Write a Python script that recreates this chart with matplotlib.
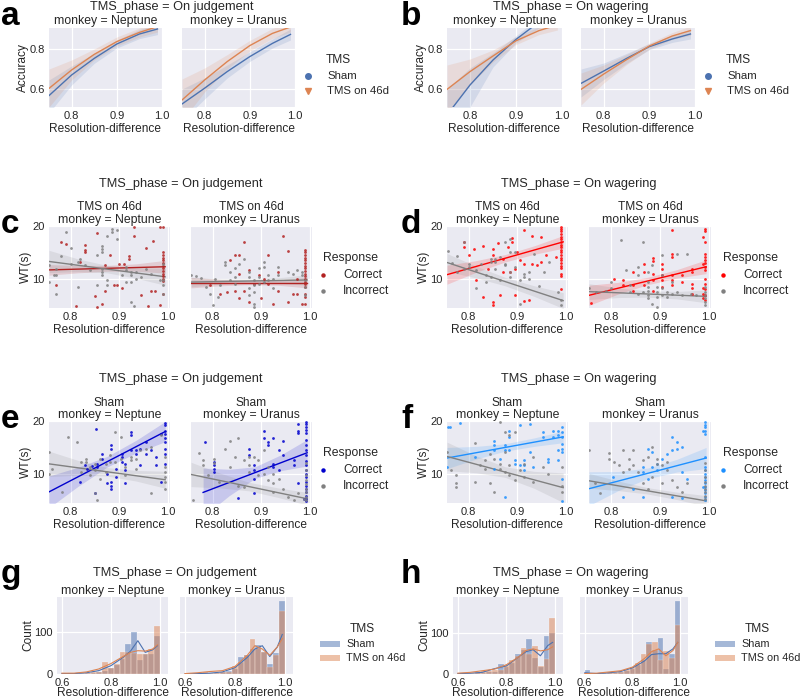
import numpy as np
import matplotlib.pyplot as plt
from matplotlib.lines import Line2D
from matplotlib.patches import Rectangle
from matplotlib.ticker import MultipleLocator

plt.rcParams['font.family'] = ['Liberation Sans', 'DejaVu Sans']
for k in ('text.color', 'axes.labelcolor', 'xtick.color', 'ytick.color'):
    plt.rcParams[k] = '#262626'

BLUE = '#4C72B0'
ORANGE = '#DD8452'
GRAY = '#808080'

# ---------------- accuracy (panels a, b) ----------------
x_acc = [0.75, 0.80, 0.85, 0.90, 0.95, 0.99]
a_nep_sham = [0.567, 0.670, 0.753, 0.825, 0.875, 0.900]
a_nep_sham_lo = [0.48, 0.620, 0.728, 0.805, 0.852, 0.872]
a_nep_sham_hi = [0.645, 0.715, 0.778, 0.845, 0.897, 0.925]
a_nep_tms = [0.603, 0.695, 0.773, 0.837, 0.883, 0.912]
a_nep_tms_lo = [0.51, 0.645, 0.745, 0.815, 0.860, 0.885]
a_nep_tms_hi = [0.70, 0.745, 0.800, 0.860, 0.905, 0.935]
a_ura_sham = [0.525, 0.604, 0.687, 0.762, 0.828, 0.873]
a_ura_sham_lo = [0.44, 0.550, 0.655, 0.738, 0.805, 0.845]
a_ura_sham_hi = [0.60, 0.655, 0.720, 0.786, 0.850, 0.900]
a_ura_tms = [0.545, 0.645, 0.737, 0.817, 0.878, 0.910]
a_ura_tms_lo = [0.44, 0.585, 0.700, 0.790, 0.853, 0.885]
a_ura_tms_hi = [0.65, 0.705, 0.772, 0.843, 0.903, 0.935]
b_nep_sham = [0.47, 0.620, 0.745, 0.848, 0.935, 0.970]
b_nep_sham_lo = [0.33, 0.510, 0.710, 0.830, 0.905, 0.935]
b_nep_sham_hi = [0.60, 0.705, 0.780, 0.866, 0.960, 0.995]
b_nep_tms = [0.598, 0.687, 0.765, 0.841, 0.892, 0.920]
b_nep_tms_lo = [0.48, 0.620, 0.735, 0.822, 0.872, 0.895]
b_nep_tms_hi = [0.72, 0.750, 0.795, 0.860, 0.912, 0.945]
b_ura_sham = [0.628, 0.690, 0.753, 0.812, 0.850, 0.875]
b_ura_sham_lo = [0.56, 0.648, 0.728, 0.797, 0.833, 0.850]
b_ura_sham_hi = [0.70, 0.730, 0.778, 0.827, 0.868, 0.900]
b_ura_tms = [0.598, 0.675, 0.747, 0.815, 0.865, 0.892]
b_ura_tms_lo = [0.52, 0.630, 0.722, 0.800, 0.848, 0.868]
b_ura_tms_hi = [0.68, 0.720, 0.772, 0.830, 0.882, 0.915]

# ---------------- waiting time scatter (panels c-f) ----------------
c_nep_cor = [(0.77, 8.9), (0.78, 17.0), (0.79, 16.6), (0.81, 4.8), (0.82, 13.2), (0.83, 16.5), (0.83, 15.5),
             (0.83, 15.0), (0.85, 6.8), (0.855, 18.6), (0.855, 4.7), (0.87, 12.7), (0.87, 7.8), (0.865, 5.3),
             (0.88, 14.6), (0.89, 8.9), (0.895, 8.8), (0.90, 12.8), (0.905, 8.2), (0.91, 12.8), (0.92, 14.3),
             (0.92, 13.7), (0.93, 18.2), (0.93, 19.8), (0.945, 7.0), (0.955, 15.8), (0.96, 4.8), (0.965, 7.8),
             (0.97, 17.2), (0.975, 7.8), (0.985, 5.0), (0.985, 19.9), (0.99, 15.0), (0.99, 14.5), (0.99, 14.0),
             (0.99, 13.5), (0.99, 13.0), (0.99, 12.5), (0.99, 12.0), (0.99, 11.5), (0.99, 11.0), (0.99, 10.5),
             (0.99, 10.0), (0.99, 9.6), (0.99, 7.2), (0.99, 19.8)]
c_nep_inc = [(0.755, 12.6), (0.755, 9.4), (0.765, 10.7), (0.77, 11.9), (0.77, 10.7), (0.77, 7.2), (0.78, 14.3),
             (0.79, 18.9), (0.80, 15.8), (0.80, 12.9), (0.815, 8.5), (0.815, 13.2), (0.82, 13.8), (0.83, 12.6),
             (0.84, 11.6), (0.855, 14.5), (0.855, 8.8), (0.865, 16.2), (0.865, 15.7), (0.865, 15.1), (0.865, 11.9),
             (0.865, 11.3), (0.865, 10.7), (0.875, 18.2), (0.875, 9.7), (0.875, 8.8), (0.885, 19.5), (0.885, 18.9),
             (0.895, 17.6), (0.895, 19.2), (0.905, 10.7), (0.915, 12.3), (0.915, 11.6), (0.915, 9.4), (0.925, 11.3),
             (0.925, 10.7), (0.925, 9.4), (0.925, 5.6), (0.93, 4.9), (0.935, 11.3), (0.935, 10.0), (0.945, 10.4),
             (0.955, 11.9), (0.965, 11.0), (0.985, 9.7), (0.99, 12.9), (0.99, 9.7), (0.99, 8.8), (0.99, 7.2)]
c_ura_cor = [(0.795, 8.8), (0.815, 7.2), (0.83, 7.5), (0.835, 13.5), (0.845, 14.5), (0.845, 7.8), (0.855, 14.5),
             (0.855, 11.0), (0.855, 6.3), (0.865, 16.9), (0.865, 7.8), (0.875, 11.6), (0.875, 5.6), (0.885, 9.1),
             (0.895, 10.7), (0.90, 6.3), (0.905, 10.0), (0.915, 14.5), (0.915, 9.1), (0.925, 5.3), (0.935, 11.3),
             (0.935, 7.8), (0.945, 18.1), (0.955, 15.3), (0.955, 5.6), (0.965, 7.2), (0.975, 7.2), (0.975, 10.0),
             (0.985, 5.3), (0.99, 15.5), (0.99, 15.0), (0.99, 14.5), (0.99, 14.0), (0.99, 13.5), (0.99, 13.0),
             (0.99, 12.5), (0.99, 12.0), (0.99, 11.5), (0.99, 11.0), (0.99, 10.5), (0.99, 10.0), (0.99, 9.5),
             (0.99, 9.0), (0.99, 8.5), (0.99, 7.2), (0.99, 6.5), (0.99, 5.3)]
c_ura_inc = [(0.755, 10.7), (0.765, 10.5), (0.775, 10.2), (0.785, 8.5), (0.795, 7.2), (0.805, 10.0), (0.815, 8.8),
             (0.825, 13.2), (0.825, 12.6), (0.835, 11.3), (0.835, 9.7), (0.845, 12.0), (0.845, 10.4), (0.845, 9.1),
             (0.855, 12.9), (0.865, 13.8), (0.875, 11.3), (0.875, 10.4), (0.875, 8.2), (0.875, 6.9), (0.885, 9.7),
             (0.885, 8.8), (0.885, 7.5), (0.885, 5.3), (0.885, 4.7), (0.895, 12.0), (0.895, 10.4), (0.895, 9.1),
             (0.905, 13.2), (0.905, 12.3), (0.905, 9.4), (0.915, 10.7), (0.915, 9.7), (0.925, 10.0), (0.925, 8.2),
             (0.935, 12.3), (0.935, 10.7), (0.955, 11.3), (0.965, 11.0), (0.975, 11.6), (0.985, 11.3),
             (0.985, 10.7), (0.99, 9.7), (0.99, 8.5), (0.99, 6.9), (0.80, 5.0), (0.81, 6.5)]
d_nep_cor = [(0.79, 17.0), (0.79, 16.0), (0.80, 14.5), (0.81, 15.7), (0.815, 9.7), (0.83, 16.2), (0.83, 6.6),
             (0.84, 11.9), (0.85, 15.7), (0.85, 14.5), (0.85, 5.6), (0.85, 5.0), (0.86, 16.7), (0.865, 6.9),
             (0.87, 13.8), (0.87, 11.3), (0.88, 16.0), (0.885, 11.3), (0.89, 17.8), (0.89, 17.0), (0.895, 11.9),
             (0.895, 6.9), (0.90, 15.1), (0.905, 13.5), (0.915, 19.2), (0.915, 12.9), (0.915, 5.9), (0.925, 6.1),
             (0.93, 18.2), (0.93, 12.9), (0.94, 12.6), (0.95, 17.9), (0.95, 13.2), (0.96, 14.5), (0.98, 14.1),
             (0.99, 19.8), (0.99, 19.4), (0.99, 19.0), (0.99, 18.5), (0.99, 18.0), (0.99, 17.5), (0.99, 17.0),
             (0.99, 16.5), (0.99, 16.0), (0.99, 15.5), (0.99, 15.0), (0.99, 14.5), (0.99, 14.0), (0.99, 13.5),
             (0.99, 13.0), (0.99, 12.5), (0.99, 12.0), (0.99, 11.0), (0.99, 10.5), (0.99, 8.0)]
d_nep_inc = [(0.757, 15.3), (0.765, 13.0), (0.775, 14.3), (0.775, 11.3), (0.79, 17.0), (0.79, 11.8), (0.80, 12.9),
             (0.80, 12.3), (0.815, 11.6), (0.815, 8.2), (0.825, 12.9), (0.835, 10.7), (0.835, 9.4), (0.845, 13.8),
             (0.845, 13.2), (0.845, 10.4), (0.855, 13.8), (0.855, 13.2), (0.855, 11.9), (0.865, 14.1), (0.865, 9.7),
             (0.875, 17.0), (0.875, 12.9), (0.875, 12.6), (0.885, 17.6), (0.885, 15.1), (0.885, 11.3),
             (0.885, 10.4), (0.895, 15.1), (0.895, 12.3), (0.905, 9.7), (0.905, 5.3), (0.915, 11.0), (0.915, 10.4),
             (0.925, 11.3), (0.925, 10.0), (0.935, 14.8), (0.945, 8.7), (0.955, 11.3), (0.965, 13.2), (0.985, 7.5),
             (0.99, 6.1), (0.99, 5.1)]
d_ura_cor = [(0.76, 5.5), (0.806, 10.0), (0.825, 9.7), (0.825, 8.8), (0.846, 11.3), (0.846, 8.8), (0.846, 7.8),
             (0.867, 12.9), (0.867, 11.3), (0.867, 8.8), (0.886, 13.9), (0.886, 13.3), (0.886, 11.0), (0.886, 9.7),
             (0.886, 7.8), (0.905, 12.9), (0.905, 11.9), (0.905, 10.7), (0.905, 9.7), (0.905, 8.5), (0.925, 19.2),
             (0.925, 14.8), (0.925, 14.1), (0.925, 10.7), (0.925, 9.7), (0.925, 8.8), (0.946, 10.7), (0.946, 9.4),
             (0.967, 11.9), (0.967, 11.3), (0.967, 9.1), (0.967, 8.2), (0.967, 7.2), (0.988, 17.9), (0.988, 12.9),
             (0.988, 8.2), (0.988, 7.2), (0.988, 6.3), (0.993, 19.5), (0.993, 19.0), (0.993, 17.0), (0.993, 14.8),
             (0.993, 14.2), (0.993, 13.6), (0.993, 13.0), (0.993, 12.3), (0.993, 11.6), (0.993, 10.0), (0.993, 9.0),
             (0.993, 8.0), (0.993, 7.0), (0.993, 6.0)]
d_ura_inc = [(0.755, 8.2), (0.77, 7.5), (0.79, 7.8), (0.80, 9.4), (0.80, 8.2), (0.82, 17.4), (0.83, 11.6),
             (0.84, 8.8), (0.84, 7.5), (0.855, 12.3), (0.855, 10.7), (0.855, 7.2), (0.865, 17.0), (0.865, 7.5),
             (0.875, 11.3), (0.875, 9.4), (0.875, 8.5), (0.875, 7.8), (0.875, 6.9), (0.875, 6.3), (0.885, 12.6),
             (0.885, 5.3), (0.895, 8.5), (0.895, 7.5), (0.895, 6.6), (0.895, 4.7), (0.905, 14.5), (0.905, 10.7),
             (0.905, 8.2), (0.905, 6.9), (0.915, 7.5), (0.915, 6.6), (0.925, 9.4), (0.925, 7.2), (0.935, 14.8),
             (0.935, 7.5), (0.945, 6.9), (0.955, 14.8), (0.965, 7.2), (0.975, 6.9), (0.993, 8.5), (0.993, 7.5),
             (0.993, 6.9), (0.993, 6.3), (0.993, 5.6), (0.993, 5.0)]
e_nep_cor = [(0.82, 8.5), (0.829, 11.6), (0.833, 11.0), (0.844, 11.4), (0.85, 6.4), (0.852, 18.4), (0.854, 11.9),
             (0.854, 11.3), (0.865, 13.7), (0.865, 12.9), (0.874, 10.0), (0.874, 8.2), (0.883, 15.4), (0.883, 14.8),
             (0.883, 8.5), (0.883, 7.8), (0.883, 7.2), (0.894, 11.0), (0.894, 9.4), (0.905, 13.7), (0.905, 13.2),
             (0.905, 12.3), (0.913, 11.9), (0.913, 10.7), (0.913, 8.2), (0.924, 17.9), (0.924, 17.3), (0.924, 14.5),
             (0.934, 14.5), (0.934, 13.8), (0.944, 14.8), (0.944, 11.6), (0.955, 16.0), (0.955, 13.8), (0.965, 14.5),
             (0.976, 13.2), (0.976, 11.6), (0.986, 8.5), (0.986, 17.6), (0.995, 19.6), (0.995, 19.2), (0.995, 18.2),
             (0.995, 17.6), (0.995, 16.7), (0.995, 16.0), (0.995, 14.8), (0.995, 13.8), (0.995, 11.9)]
e_nep_inc = [(0.755, 14.1), (0.755, 10.0), (0.762, 11.0), (0.781, 6.6), (0.795, 16.9), (0.813, 16.0), (0.822, 12.3),
             (0.822, 10.4), (0.831, 12.9), (0.831, 12.3), (0.84, 11.3), (0.84, 9.7), (0.851, 11.9), (0.851, 10.7),
             (0.851, 6.3), (0.854, 5.0), (0.861, 12.9), (0.861, 9.1), (0.872, 11.9), (0.872, 10.4), (0.882, 13.5),
             (0.882, 12.3), (0.892, 17.9), (0.892, 12.3), (0.903, 17.0), (0.903, 12.9), (0.913, 11.3), (0.913, 9.7),
             (0.924, 13.2), (0.924, 12.6), (0.934, 12.9), (0.934, 11.0), (0.944, 14.5), (0.955, 14.8), (0.965, 15.1),
             (0.965, 6.3), (0.986, 17.3), (0.995, 13.2), (0.995, 11.3), (0.995, 10.4), (0.995, 9.4), (0.995, 8.5),
             (0.995, 7.2)]
e_ura_cor = [(0.783, 16.0), (0.803, 12.3), (0.803, 11.6), (0.803, 11.0), (0.803, 10.4), (0.852, 5.5), (0.875, 14.8),
             (0.875, 13.5), (0.885, 11.6), (0.885, 10.7), (0.885, 9.1), (0.885, 6.3), (0.905, 18.2), (0.905, 16.7),
             (0.915, 16.0), (0.915, 15.4), (0.925, 16.7), (0.925, 11.9), (0.925, 11.3), (0.936, 14.5), (0.936, 10.7),
             (0.946, 16.3), (0.946, 13.5), (0.967, 12.6), (0.967, 11.6), (0.977, 19.5), (0.977, 18.2), (0.977, 17.7),
             (0.977, 8.2), (0.988, 5.3), (0.993, 19.8), (0.993, 19.4), (0.993, 18.8), (0.993, 18.3), (0.993, 17.7),
             (0.993, 16.5), (0.993, 15.4), (0.993, 14.5), (0.993, 13.5), (0.993, 12.5), (0.993, 11.6), (0.993, 10.7),
             (0.993, 10.0), (0.993, 9.4), (0.993, 8.5), (0.993, 7.8), (0.993, 7.2), (0.993, 6.5), (0.993, 5.9),
             (0.993, 5.3), (0.993, 4.8)]
e_ura_inc = [(0.76, 5.0), (0.772, 14.0), (0.78, 12.6), (0.78, 11.6), (0.791, 9.7), (0.803, 12.9), (0.803, 12.0),
             (0.813, 8.5), (0.825, 14.8), (0.836, 16.3), (0.836, 11.3), (0.845, 13.2), (0.853, 16.7), (0.853, 7.8),
             (0.865, 12.6), (0.865, 7.5), (0.875, 13.2), (0.875, 11.6), (0.875, 10.4), (0.885, 13.2), (0.894, 12.6),
             (0.894, 9.7), (0.905, 14.5), (0.905, 10.0), (0.915, 11.3), (0.915, 8.8), (0.925, 10.0), (0.925, 8.2),
             (0.925, 6.6), (0.936, 9.1), (0.946, 7.2), (0.956, 5.6), (0.967, 5.0), (0.977, 6.3), (0.988, 5.3),
             (0.993, 12.0), (0.993, 10.7), (0.993, 9.7), (0.993, 8.8), (0.993, 8.0), (0.993, 7.2), (0.993, 6.5),
             (0.993, 5.6), (0.993, 5.0)]
f_nep_cor = [(0.757, 18.9), (0.762, 18.9), (0.781, 19.6), (0.755, 11.3), (0.813, 13.2), (0.853, 16.3), (0.853, 15.4),
             (0.853, 14.5), (0.853, 11.0), (0.864, 12.9), (0.874, 15.4), (0.874, 14.5), (0.874, 5.6), (0.884, 18.2),
             (0.884, 17.0), (0.884, 14.5), (0.895, 12.6), (0.895, 11.9), (0.905, 19.2), (0.905, 11.6), (0.915, 12.6),
             (0.915, 11.6), (0.915, 10.7), (0.926, 19.5), (0.926, 14.1), (0.933, 11.3), (0.953, 17.9), (0.953, 17.0),
             (0.963, 12.9), (0.963, 12.3), (0.974, 18.2), (0.974, 17.0), (0.984, 18.2), (0.984, 17.3), (0.984, 14.5),
             (0.984, 12.6), (0.993, 18.8), (0.993, 17.9), (0.993, 17.0), (0.993, 15.7), (0.993, 14.8), (0.993, 14.1),
             (0.993, 9.1), (0.993, 4.9)]
f_nep_inc = [(0.755, 14.1), (0.764, 10.7), (0.773, 9.7), (0.773, 8.2), (0.773, 7.5), (0.813, 15.8), (0.813, 8.5),
             (0.824, 11.6), (0.833, 12.6), (0.833, 11.0), (0.843, 13.8), (0.843, 8.2), (0.853, 12.9), (0.853, 6.6),
             (0.864, 19.8), (0.864, 11.9), (0.864, 11.0), (0.874, 17.9), (0.874, 14.1), (0.874, 10.4), (0.884, 17.3),
             (0.884, 11.6), (0.884, 9.7), (0.895, 17.9), (0.895, 8.8), (0.905, 10.7), (0.915, 11.9), (0.915, 9.4),
             (0.933, 13.2), (0.933, 8.5), (0.953, 11.3), (0.963, 10.0), (0.993, 11.3), (0.993, 7.8), (0.993, 6.6)]
f_ura_cor = [(0.805, 9.4), (0.825, 5.6), (0.846, 7.2), (0.865, 11.3), (0.865, 10.4), (0.865, 5.6), (0.875, 14.8),
             (0.875, 9.1), (0.885, 14.1), (0.885, 11.3), (0.894, 11.9), (0.894, 10.7), (0.905, 12.9), (0.915, 13.8),
             (0.925, 17.0), (0.925, 14.5), (0.925, 5.6), (0.936, 16.0), (0.936, 14.8), (0.946, 15.1), (0.946, 10.4),
             (0.946, 5.5), (0.956, 9.1), (0.988, 18.2), (0.988, 7.5), (0.993, 19.8), (0.993, 19.3), (0.993, 18.8),
             (0.993, 18.2), (0.993, 17.6), (0.993, 13.2), (0.993, 11.3), (0.993, 10.7), (0.993, 10.0), (0.993, 9.4),
             (0.993, 8.8), (0.993, 8.2), (0.993, 7.5), (0.993, 6.9), (0.993, 6.3), (0.993, 5.6), (0.993, 5.0)]
f_ura_inc = [(0.755, 14.5), (0.767, 8.2), (0.777, 6.3), (0.796, 14.0), (0.796, 12.9), (0.806, 12.3), (0.816, 11.6),
             (0.825, 14.5), (0.825, 10.4), (0.836, 12.9), (0.836, 11.0), (0.846, 14.5), (0.846, 11.6), (0.855, 10.4),
             (0.865, 12.6), (0.865, 8.2), (0.875, 13.2), (0.875, 7.2), (0.885, 15.1), (0.885, 9.4), (0.894, 12.9),
             (0.894, 11.9), (0.905, 11.6), (0.905, 8.2), (0.915, 12.3), (0.915, 10.7), (0.925, 8.8), (0.936, 7.5),
             (0.946, 6.6), (0.956, 8.2), (0.993, 12.0), (0.993, 10.7), (0.993, 9.4), (0.993, 8.5), (0.993, 7.8),
             (0.993, 7.2), (0.993, 6.6), (0.993, 5.9), (0.993, 5.3)]

# regression fits: (x start, x end), (y start, y end), CI half-width at 5 points along the line
c_nep_cor_fit = ((0.755, 0.995), (11.7, 12.3), [1.0, 0.7, 0.55, 0.7, 1.2])
c_nep_inc_fit = ((0.755, 0.995), (13.3, 10.4), [2.1, 1.2, 0.7, 1.0, 1.6])
c_ura_cor_fit = ((0.755, 0.995), (9.3, 9.3), [1.0, 0.6, 0.4, 0.5, 1.0])
c_ura_inc_fit = ((0.755, 0.995), (9.4, 9.8), [0.9, 0.5, 0.4, 0.5, 1.0])
d_nep_cor_fit = ((0.755, 0.995), (10.8, 17.0), [1.8, 1.1, 0.7, 0.8, 1.2])
d_nep_inc_fit = ((0.755, 0.995), (13.1, 5.9), [1.7, 1.1, 0.8, 1.0, 1.5])
d_ura_cor_fit = ((0.755, 0.995), (6.9, 12.3), [1.9, 1.1, 0.7, 0.8, 1.3])
d_ura_inc_fit = ((0.755, 0.995), (7.6, 6.7), [1.5, 0.9, 0.6, 0.7, 1.2])
e_nep_cor_fit = ((0.755, 0.995), (6.6, 18.0), [3.0, 1.8, 1.0, 1.2, 1.9])
e_nep_inc_fit = ((0.755, 0.995), (11.9, 8.9), [2.4, 1.4, 0.8, 1.0, 1.6])
e_ura_cor_fit = ((0.78, 0.995), (6.5, 14.0), [4.6, 2.5, 1.1, 1.5, 2.5])
e_ura_inc_fit = ((0.755, 0.995), (9.9, 5.3), [2.3, 1.4, 0.8, 0.9, 1.2])
f_nep_cor_fit = ((0.755, 0.995), (13.0, 17.0), [2.0, 1.2, 0.7, 0.8, 1.1])
f_nep_inc_fit = ((0.755, 0.995), (13.3, 7.4), [2.7, 1.6, 1.0, 1.6, 2.8])
f_ura_cor_fit = ((0.755, 0.995), (7.2, 13.0), [3.2, 1.8, 1.0, 1.2, 2.0])
f_ura_inc_fit = ((0.755, 0.995), (8.7, 4.9), [1.4, 0.9, 0.6, 0.7, 1.0])

# ---------------- histograms (panels g, h) ----------------
hist_edges = np.linspace(0.6, 1.0, 18)
g_nep_sham = [1, 1, 1, 1, 2, 3, 5, 7, 14, 22, 35, 72, 102, 34, 47, 47, 92]
g_nep_tms = [2, 1, 1, 2, 3, 4, 6, 28, 15, 25, 53, 53, 50, 48, 47, 60, 116]
g_ura_sham = [0, 0, 1, 1, 1, 2, 4, 8, 12, 42, 45, 60, 70, 52, 24, 50, 175]
g_ura_tms = [0, 1, 2, 5, 3, 3, 4, 6, 20, 30, 45, 83, 62, 53, 16, 46, 152]
h_nep_sham = [1, 1, 1, 2, 3, 4, 6, 25, 18, 28, 50, 58, 87, 40, 18, 95, 100]
h_nep_tms = [2, 2, 3, 6, 8, 7, 10, 10, 22, 35, 45, 63, 50, 70, 20, 36, 137]
h_ura_sham = [10, 0, 1, 2, 2, 3, 5, 8, 12, 22, 35, 80, 58, 90, 13, 50, 180]
h_ura_tms = [0, 1, 2, 3, 6, 4, 6, 10, 18, 28, 50, 75, 80, 35, 57, 40, 120]

kde_x = [0.60, 0.65, 0.70, 0.75, 0.80, 0.85, 0.88, 0.91, 0.94, 0.97, 0.99]
g_nep_kde_sham = [1, 1, 3, 8, 20, 40, 55, 80, 52, 58, 68]
g_nep_kde_tms = [2, 2, 5, 12, 25, 42, 52, 56, 55, 60, 70]
g_ura_kde_sham = [0, 1, 2, 5, 15, 40, 60, 68, 42, 65, 95]
g_ura_kde_tms = [1, 3, 6, 8, 18, 45, 68, 60, 45, 65, 85]
h_nep_kde_sham = [1, 2, 4, 13, 20, 42, 55, 60, 45, 70, 78]
h_nep_kde_tms = [2, 4, 8, 12, 23, 42, 58, 62, 57, 60, 67]
h_ura_kde_sham = [3, 1, 3, 6, 15, 32, 48, 50, 50, 62, 78]
h_ura_kde_tms = [1, 2, 5, 8, 17, 38, 55, 62, 45, 58, 78]

W, H = 800, 698
fig = plt.figure(figsize=(8, 6.98), dpi=100)


def fx(px):
    return px / W


def fy(py):
    return 1 - py / H


def px_axes(x0, x1, y0, y1):
    return fig.add_axes([fx(x0), fy(y1), (x1 - x0) / W, (y1 - y0) / H])


def ftext(x, y, s, **kw):
    kw.setdefault('ha', 'center')
    kw.setdefault('va', 'center')
    fig.text(fx(x), fy(y), s, **kw)


def dark(ax, xlim, ylim, ystep, xticks, left, xlabelpad=1):
    ax.set_facecolor('#EAEAF2')
    for sp in ax.spines.values():
        sp.set_visible(False)
    ax.grid(True, color='white', lw=0.9)
    ax.set_axisbelow(True)
    ax.set_xlim(xlim)
    ax.set_ylim(ylim)
    ax.set_xticks(xticks)
    ax.yaxis.set_major_locator(MultipleLocator(ystep))
    ax.tick_params(length=0, labelsize=8, pad=3)
    if not left:
        ax.tick_params(labelleft=False)
    ax.set_xlabel('Resolution-difference', fontsize=8.6, labelpad=xlabelpad)


def acc_panel(ax, curves):
    for (y, lo, hi), c in zip(curves, (BLUE, ORANGE)):
        ax.fill_between(x_acc, lo, hi, color=c, alpha=0.15, lw=0)
        ax.plot(x_acc, y, color=c, lw=1)


def fit_line(ax, fit, color):
    (x0, x1), (y0, y1), hw = fit
    xs = np.linspace(x0, x1, len(hw))
    ys = y0 + (y1 - y0) * (xs - x0) / (x1 - x0)
    ax.fill_between(xs, ys - np.array(hw), ys + np.array(hw), color=color, alpha=0.15, lw=0)
    ax.plot([x0, x1], [y0, y1], color=color, lw=1)


def wt_panel(ax, color, cor, inc, cor_fit, inc_fit):
    for pts, fit, c in ((cor, cor_fit, color), (inc, inc_fit, GRAY)):
        xs, ys = zip(*pts)
        ax.scatter(xs, ys, s=4, color=c, lw=0, alpha=0.85, zorder=3)
        fit_line(ax, fit, c)


def hist_panel(ax, sham, tms, kde_sham, kde_tms):
    widths = np.diff(hist_edges)
    ax.bar(hist_edges[:-1], sham, width=widths, align='edge', color=BLUE, alpha=0.5, ec='white', lw=0.3)
    ax.bar(hist_edges[:-1], tms, width=widths, align='edge', color=ORANGE, alpha=0.5, ec='white', lw=0.3)
    ax.plot(kde_x, kde_sham, color=BLUE, lw=0.8)
    ax.plot(kde_x, kde_tms, color=ORANGE, lw=0.8)


# ---- panels a & b ----
acc_data = {
    'a': [(a_nep_sham, a_nep_sham_lo, a_nep_sham_hi), (a_nep_tms, a_nep_tms_lo, a_nep_tms_hi),
          (a_ura_sham, a_ura_sham_lo, a_ura_sham_hi), (a_ura_tms, a_ura_tms_lo, a_ura_tms_hi)],
    'b': [(b_nep_sham, b_nep_sham_lo, b_nep_sham_hi), (b_nep_tms, b_nep_tms_lo, b_nep_tms_hi),
          (b_ura_sham, b_ura_sham_lo, b_ura_sham_hi), (b_ura_tms, b_ura_tms_lo, b_ura_tms_hi)],
}
acc_layout = {'a': ((49, 162), (182, 295), 0, 'On judgement'),
              'b': ((447, 562), (581, 695), 400, 'On wagering')}
for key, (xa, xb, off, phase) in acc_layout.items():
    cur = acc_data[key]
    for i, (xr, monkey) in enumerate(((xa, 'Neptune'), (xb, 'Uranus'))):
        ax = px_axes(xr[0], xr[1], 28, 107)
        dark(ax, (0.75, 1.0), (0.51, 0.905), 0.2, [0.8, 0.9, 1.0], i == 0)
        acc_panel(ax, cur[2 * i:2 * i + 2])
        ftext((xr[0] + xr[1]) / 2, 21, 'monkey = ' + monkey, fontsize=8.8)
        if i == 0:
            ax.set_ylabel('Accuracy', fontsize=8.6, labelpad=0.5)
    ftext((xa[0] + xb[1]) / 2, 7, 'TMS_phase = ' + phase, fontsize=9.2)
    ftext(off + 1, 25, key, fontsize=24, fontweight='bold', ha='left', va='baseline', color='black')
    mx, tx = off + 308, off + 327
    ftext(tx + 11, 60, 'TMS', fontsize=8.6)
    fig.add_artist(Line2D([fx(mx)], [fy(76)], marker='o', ms=4, color=BLUE, ls='none'))
    fig.add_artist(Line2D([fx(mx)], [fy(91)], marker='v', ms=4, color=ORANGE, ls='none'))
    ftext(tx, 76, 'Sham', fontsize=8.2, ha='left')
    ftext(tx, 91, 'TMS on 46d', fontsize=8.2, ha='left')

# ---- panels c-f ----
wt_layout = [
    ('c', 0, 160, 'On judgement', 'TMS on 46d', 'firebrick',
     (c_nep_cor, c_nep_inc, c_nep_cor_fit, c_nep_inc_fit), (c_ura_cor, c_ura_inc, c_ura_cor_fit, c_ura_inc_fit)),
    ('d', 400, 160, 'On wagering', 'TMS on 46d', 'red',
     (d_nep_cor, d_nep_inc, d_nep_cor_fit, d_nep_inc_fit), (d_ura_cor, d_ura_inc, d_ura_cor_fit, d_ura_inc_fit)),
    ('e', 0, 355, 'On judgement', 'Sham', 'mediumblue',
     (e_nep_cor, e_nep_inc, e_nep_cor_fit, e_nep_inc_fit), (e_ura_cor, e_ura_inc, e_ura_cor_fit, e_ura_inc_fit)),
    ('f', 400, 355, 'On wagering', 'Sham', 'dodgerblue',
     (f_nep_cor, f_nep_inc, f_nep_cor_fit, f_nep_inc_fit), (f_ura_cor, f_ura_inc, f_ura_cor_fit, f_ura_inc_fit)),
]
for key, ox, oy, phase, cond, col, nep, ura in wt_layout:
    if ox == 0:
        xa, xb = (49, 170), (191, 312)
    else:
        xa, xb = (447, 568), (589, 711)
    for i, (xr, monkey, data) in enumerate(((xa, 'Neptune', nep), (xb, 'Uranus', ura))):
        ax = px_axes(xr[0], xr[1], oy + 66, oy + 148)
        dark(ax, (0.755, 1.005), (4.5, 20), 10, [0.8, 0.9, 1.0], i == 0)
        wt_panel(ax, col, *data)
        ftext((xr[0] + xr[1]) / 2, oy + 47.5, cond, fontsize=8.6)
        ftext((xr[0] + xr[1]) / 2, oy + 60, 'monkey = ' + monkey, fontsize=8.8)
        if i == 0:
            ax.set_ylabel('WT(s)', fontsize=8.6, labelpad=0.5)
    ftext((xa[0] + xb[1]) / 2, oy + 24, 'TMS_phase = ' + phase, fontsize=9.2)
    ftext(ox + 1, oy + 73, key, fontsize=24, fontweight='bold', ha='left', va='baseline', color='black')
    mx, tx = ox + 323, ox + 343
    ftext(ox + 350, oy + 98, 'Response', fontsize=8.8)
    fig.add_artist(Line2D([fx(mx)], [fy(oy + 115)], marker='o', ms=2.2, color=col, ls='none'))
    fig.add_artist(Line2D([fx(mx)], [fy(oy + 131)], marker='o', ms=2.2, color=GRAY, ls='none'))
    ftext(tx, oy + 115, 'Correct', fontsize=8.6, ha='left')
    ftext(tx, oy + 131, 'Incorrect', fontsize=8.6, ha='left')

# ---- panels g & h ----
hist_layout = [
    ('g', 0, (57, 168), (180, 293), 'On judgement', (0, 185),
     (g_nep_sham, g_nep_tms, g_nep_kde_sham, g_nep_kde_tms), (g_ura_sham, g_ura_tms, g_ura_kde_sham, g_ura_kde_tms)),
    ('h', 400, (453, 563), (580, 688), 'On wagering', (0, 190),
     (h_nep_sham, h_nep_tms, h_nep_kde_sham, h_nep_kde_tms), (h_ura_sham, h_ura_tms, h_ura_kde_sham, h_ura_kde_tms)),
]
for key, ox, xa, xb, phase, ylim, nep, ura in hist_layout:
    for i, (xr, monkey, data) in enumerate(((xa, 'Neptune', nep), (xb, 'Uranus', ura))):
        ax = px_axes(xr[0], xr[1], 597, 674)
        dark(ax, (0.58, 1.033), ylim, 100, [0.6, 0.8, 1.0], i == 0, xlabelpad=-1)
        hist_panel(ax, *data)
        ftext((xr[0] + xr[1]) / 2, 591, 'monkey = ' + monkey, fontsize=8.8)
        if i == 0:
            ax.set_ylabel('Count', fontsize=8.6, labelpad=0)
    ftext((xa[0] + xb[1]) / 2, 573, 'TMS_phase = ' + phase, fontsize=9.2)
    ftext(ox + 1, 583, key, fontsize=24, fontweight='bold', ha='left', va='baseline', color='black')
    px0 = 320 if ox == 0 else 715
    ftext(px0 + 42, 629, 'TMS', fontsize=8.6)
    for yy, c, lab in ((644, BLUE, 'Sham'), (658, ORANGE, 'TMS on 46d')):
        fig.add_artist(Rectangle((fx(px0), fy(yy + 3)), 20 / W, 6 / H, color=c, alpha=0.5, lw=0))
        ftext(px0 + 26, yy, lab, fontsize=7.8, ha='left')

fig.savefig('out.png', dpi=100)
